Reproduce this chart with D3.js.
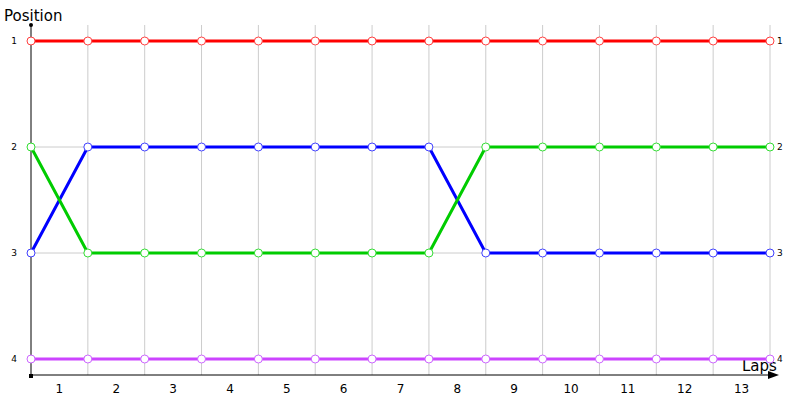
<!DOCTYPE html>
<html>
    <head>
        <title>Lap chart</title>
        <script src="https://d3js.org/d3.v7.min.js"></script>

        <style type="text/css">
        body { margin: 0; background: #fff; }
        svg text { font-family: "DejaVu Sans", Verdana, sans-serif; fill: #000; }
        .grid line { stroke: #cccccc; stroke-width: 1px; }
        .axis { stroke: #000; stroke-width: 1px; }
        .racer { fill: none; stroke-width: 3px; stroke-linejoin: round; }
        .dot { fill: #fff; stroke-width: 1px; }
        </style>

        <script type="text/javascript">

            // lap points (0 = start) and lap labels
            var points = [0, 1, 2, 3, 4, 5, 6, 7, 8, 9, 10, 11, 12, 13];
            var lapLabels = ["1", "2", "3", "4", "5", "6", "7", "8", "9", "10", "11", "12", "13"];
            var positions = [1, 2, 3, 4];

            var red    = [1, 1, 1, 1, 1, 1, 1, 1, 1, 1, 1, 1, 1, 1];
            var blue   = [3, 2, 2, 2, 2, 2, 2, 2, 3, 3, 3, 3, 3, 3];
            var green  = [2, 3, 3, 3, 3, 3, 3, 3, 2, 2, 2, 2, 2, 2];
            var purple = [4, 4, 4, 4, 4, 4, 4, 4, 4, 4, 4, 4, 4, 4];

            var series = [
              { name: "red",    values: red,    line: "#ff0000", dot: "#ff4040" },
              { name: "blue",   values: blue,   line: "#0000ff", dot: "#4040ff" },
              { name: "green",  values: green,  line: "#00cc00", dot: "#33dd33" },
              { name: "purple", values: purple, line: "#cc44ff", dot: "#cc66ff" }
            ];

            function createChart() {

              var svg = d3.select("body")
                          .append("svg")
                          .attr("width", 800)
                          .attr("height", 400);

              var x = d3.scaleLinear().domain([0, 13]).range([31, 770]);
              var y = d3.scaleLinear().domain([1, 4]).range([41, 359]);
              var axisY = 375;

              // grid
              var grid = svg.append("g").attr("class", "grid");
              grid.selectAll("line.v")
                  .data(points.slice(1))
                  .enter()
                  .append("line")
                  .attr("x1", function(d) { return x(d); })
                  .attr("x2", function(d) { return x(d); })
                  .attr("y1", 25)
                  .attr("y2", axisY);
              grid.selectAll("line.h")
                  .data(positions)
                  .enter()
                  .append("line")
                  .attr("x1", x(0))
                  .attr("x2", x(13))
                  .attr("y1", function(d) { return y(d); })
                  .attr("y2", function(d) { return y(d); });

              // axes
              svg.append("line").attr("class", "axis")
                  .attr("x1", x(0)).attr("x2", x(0))
                  .attr("y1", 25).attr("y2", axisY);
              svg.append("line").attr("class", "axis")
                  .attr("x1", x(0)).attr("x2", 772)
                  .attr("y1", axisY).attr("y2", axisY);
              svg.append("path")
                  .attr("d", "M768," + (axisY - 4) + "L779," + axisY + "L768," + (axisY + 4) + "Z")
                  .attr("fill", "#000");
              svg.append("circle").attr("cx", x(0)).attr("cy", 25).attr("r", 2).attr("fill", "#000");
              svg.append("rect").attr("x", x(0) - 2).attr("y", axisY - 1).attr("width", 4).attr("height", 4).attr("fill", "#000");

              // axis titles
              svg.append("text").text("Position")
                  .attr("x", 4).attr("y", 21)
                  .style("font-size", "15px");
              svg.append("text").text("Laps")
                  .attr("x", 742).attr("y", 371)
                  .style("font-size", "15px");

              // position labels, both sides
              svg.selectAll("text.posl")
                  .data(positions)
                  .enter()
                  .append("text")
                  .attr("class", "posl")
                  .text(function(d) { return d; })
                  .attr("x", 17)
                  .attr("y", function(d) { return y(d) + 3; })
                  .attr("text-anchor", "end")
                  .style("font-size", "9px");
              svg.selectAll("text.posr")
                  .data(positions)
                  .enter()
                  .append("text")
                  .attr("class", "posr")
                  .text(function(d) { return d; })
                  .attr("x", 777)
                  .attr("y", function(d) { return y(d) + 3; })
                  .style("font-size", "9px");

              // lap labels
              svg.selectAll("text.lap")
                  .data(lapLabels)
                  .enter()
                  .append("text")
                  .attr("class", "lap")
                  .text(function(d) { return d; })
                  .attr("x", function(d, i) { return (x(i) + x(i + 1)) / 2; })
                  .attr("y", 393)
                  .attr("text-anchor", "middle")
                  .style("font-size", "12px");

              var line = d3.line()
                  .x(function(d, i) { return x(points[i]); })
                  .y(function(d) { return y(d); });

              var g = svg.selectAll("g.racer")
                  .data(series)
                  .enter()
                  .append("g")
                  .attr("class", "racer-group");

              g.append("path")
                  .attr("class", "racer")
                  .attr("stroke", function(d) { return d.line; })
                  .attr("d", function(d) { return line(d.values); });

              g.each(function(s) {
                d3.select(this).selectAll("circle")
                    .data(s.values)
                    .enter()
                    .append("circle")
                    .attr("class", "dot")
                    .attr("stroke", s.dot)
                    .attr("cx", function(d, i) { return x(points[i]); })
                    .attr("cy", function(d) { return y(d); })
                    .attr("r", 4);
              });
            }

            window.onload = createChart;

        </script>
    </head>
    <body>
    </body>
</html>
